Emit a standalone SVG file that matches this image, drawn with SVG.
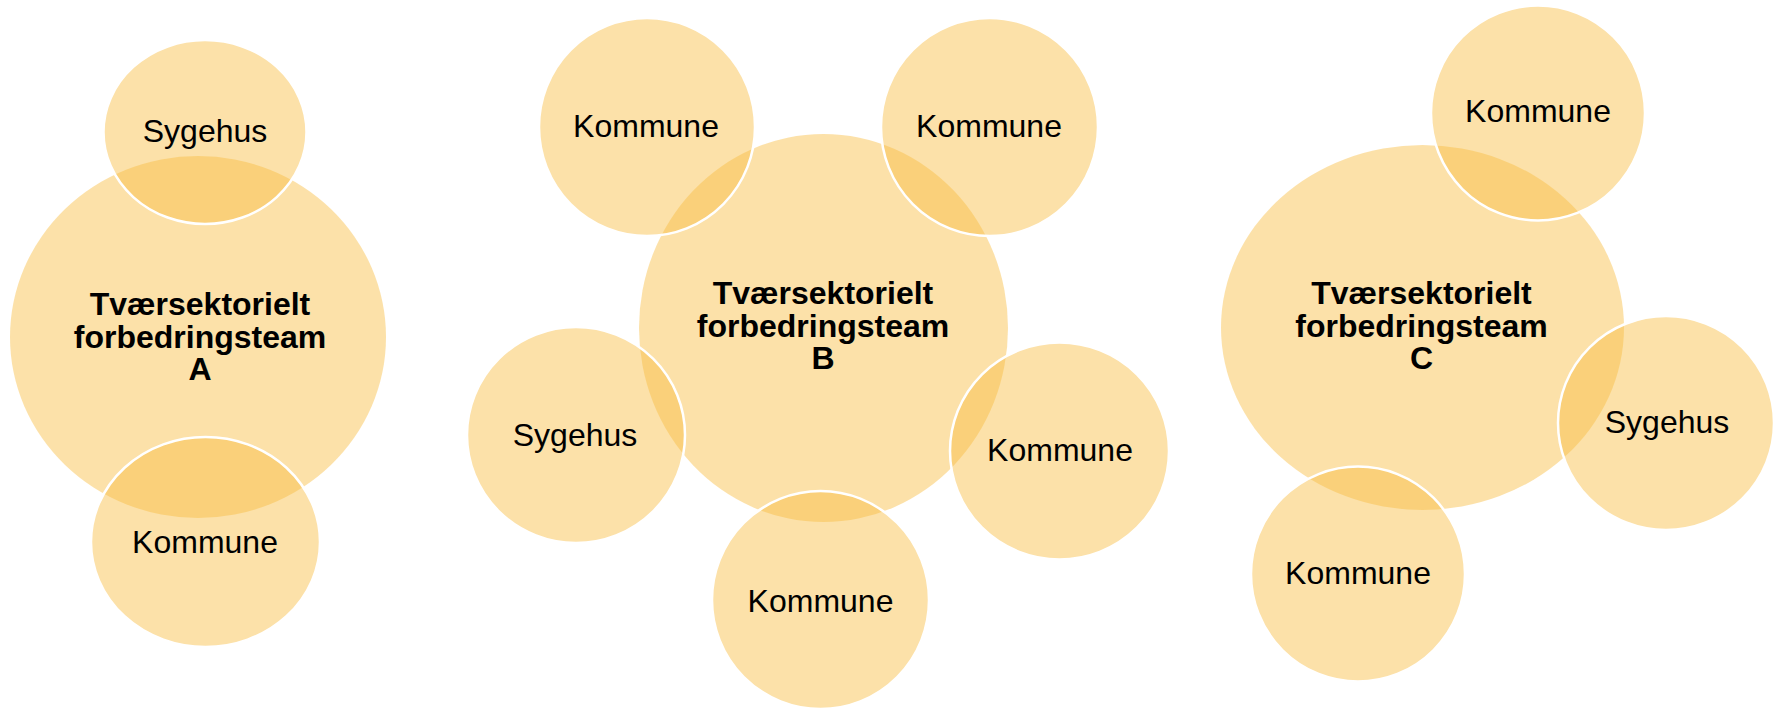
<svg xmlns="http://www.w3.org/2000/svg" width="1778" height="710" viewBox="0 0 1778 710">
<style>
.big{fill:#F8BD40;fill-opacity:0.45;stroke:none}
.sat{fill:#F8BD40;fill-opacity:0.45;stroke:#FFFFFF;stroke-width:2.5}
.lbl{font-family:"Liberation Sans",Arial,sans-serif;font-size:32px;fill:#000;text-anchor:middle}
.ttl{font-family:"Liberation Sans",Arial,sans-serif;font-size:32px;font-weight:bold;fill:#000;text-anchor:middle}
</style>
<rect width="1778" height="710" fill="#FFFFFF"/>
<g id="connectors"/>
<!-- Group A -->
<g id="teamA">
<ellipse class="big" cx="198" cy="337" rx="188" ry="181"/>
<text class="ttl" x="200" y="315">Tværsektorielt</text>
<text class="ttl" x="200" y="347.5">forbedringsteam</text>
<text class="ttl" x="200" y="380">A</text>
</g>
<g id="a-sygehus">
<ellipse class="sat" cx="205" cy="132" rx="101.5" ry="92"/>
<text class="lbl" x="205" y="142">Sygehus</text>
</g>
<g id="a-kommune">
<ellipse class="sat" cx="205.5" cy="542" rx="114.5" ry="105"/>
<text class="lbl" x="205" y="553">Kommune</text>
</g>
<!-- Group B -->
<g id="teamB">
<ellipse class="big" cx="823.5" cy="328" rx="184.5" ry="194"/>
<text class="ttl" x="823" y="304">Tværsektorielt</text>
<text class="ttl" x="823" y="336.5">forbedringsteam</text>
<text class="ttl" x="823" y="369">B</text>
</g>
<g id="b-kommune-tl">
<ellipse class="sat" cx="647" cy="127" rx="108" ry="109"/>
<text class="lbl" x="646" y="137">Kommune</text>
</g>
<g id="b-kommune-tr">
<ellipse class="sat" cx="989.5" cy="127" rx="108.5" ry="109"/>
<text class="lbl" x="989" y="137">Kommune</text>
</g>
<g id="b-sygehus">
<ellipse class="sat" cx="576" cy="435" rx="109" ry="108"/>
<text class="lbl" x="575" y="446">Sygehus</text>
</g>
<g id="b-kommune-r">
<ellipse class="sat" cx="1059.5" cy="451" rx="109.5" ry="108.5"/>
<text class="lbl" x="1060" y="461">Kommune</text>
</g>
<g id="b-kommune-b">
<ellipse class="sat" cx="820.5" cy="600" rx="108.5" ry="109"/>
<text class="lbl" x="820.5" y="612">Kommune</text>
</g>
<!-- Group C -->
<g id="teamC">
<ellipse class="big" cx="1422.5" cy="327.5" rx="201.5" ry="182.5"/>
<text class="ttl" x="1421.5" y="304">Tværsektorielt</text>
<text class="ttl" x="1421.5" y="336.5">forbedringsteam</text>
<text class="ttl" x="1421.5" y="369">C</text>
</g>
<g id="c-kommune-t">
<ellipse class="sat" cx="1538" cy="113" rx="107" ry="107.5"/>
<text class="lbl" x="1538" y="121.5">Kommune</text>
</g>
<g id="c-sygehus">
<ellipse class="sat" cx="1666" cy="423" rx="108" ry="107"/>
<text class="lbl" x="1667" y="432.5">Sygehus</text>
</g>
<g id="c-kommune-bl">
<ellipse class="sat" cx="1358" cy="574" rx="107" ry="107.5"/>
<text class="lbl" x="1358" y="584">Kommune</text>
</g>
</svg>
